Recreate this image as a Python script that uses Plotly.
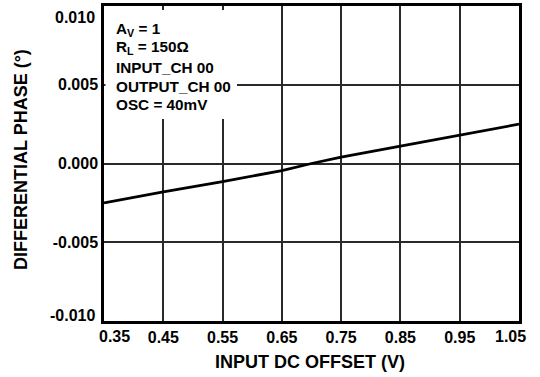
import plotly.graph_objects as go

# input DC offset (V) vs differential phase (deg)
offset_v = [0.35, 0.45, 0.55, 0.65, 0.70, 0.75, 0.85, 0.95, 1.05]
diff_phase = [-0.0025, -0.0018, -0.00115, -0.00045, 0.0, 0.0004, 0.0011, 0.0018, 0.0025]

x_ticks = [0.35, 0.45, 0.55, 0.65, 0.75, 0.85, 0.95, 1.05]
y_ticks = [-0.010, -0.005, 0.000, 0.005, 0.010]

conditions = ["A<sub>V</sub> = 1", "R<sub>L</sub> = 150Ω", "INPUT_CH 00",
              "OUTPUT_CH 00", "OSC = 40mV"]

FONT = "Liberation Sans, Arial, sans-serif"
TICK_SIZE = 16
TITLE_SIZE = 18
NOTE_SIZE = 15.3

# plot box in pixels (540x377 canvas)
L, R, T, B = 104, 519, 6, 321
W, H = R - L, B - T


def px(x):
    return (x - L) / W


def py(y):
    return (B - y) / H


fig = go.Figure()
fig.add_trace(go.Scatter(
    x=offset_v, y=diff_phase, mode="lines",
    line=dict(color="black", width=2.8), showlegend=False
))

# end ticks sit on the frame, so only the inner ones go through the axis
fig.update_layout(
    width=540, height=377,
    margin=dict(l=L, r=540 - R, t=T, b=377 - B),
    paper_bgcolor="white", plot_bgcolor="white",
    font=dict(family=FONT, size=TICK_SIZE, color="black", weight="bold"),
    xaxis=dict(
        range=[x_ticks[0], x_ticks[-1]], tickvals=x_ticks[1:-1],
        ticktext=[f"{v:.2f}" for v in x_ticks[1:-1]],
        showgrid=True, gridcolor="#2a2a2a", gridwidth=1.7,
        showline=True, linecolor="black", linewidth=2.5, mirror=True,
        ticks="", zeroline=False, automargin=False,
    ),
    yaxis=dict(
        range=[y_ticks[0], y_ticks[-1]], tickvals=y_ticks[1:-1],
        ticktext=[f"{v:.3f}" for v in y_ticks[1:-1]],
        showgrid=True, gridcolor="#2a2a2a", gridwidth=1.7,
        showline=True, linecolor="black", linewidth=2.5, mirror=True,
        ticks="", zeroline=False, automargin=False,
    ),
)

# end labels nudged inside like the original
end_labels = [
    (f"{x_ticks[0]:.2f}", px(114), py(336), "center"),
    (f"{x_ticks[-1]:.2f}", px(510), py(336), "center"),
    (f"{y_ticks[-1]:.3f}", px(97), py(18), "right"),
    (f"{y_ticks[0]:.3f}", px(97), py(315), "right"),
]
for txt, x, y, anchor in end_labels:
    fig.add_annotation(text=txt, xref="paper", yref="paper", x=x, y=y,
                       xanchor=anchor, yanchor="middle",
                       showarrow=False, font=dict(size=TICK_SIZE))

# axis titles
fig.add_annotation(text="INPUT DC OFFSET (V)", xref="paper", yref="paper",
                   x=px(310), y=py(362), xanchor="center", yanchor="middle",
                   showarrow=False, font=dict(size=TITLE_SIZE))
fig.add_annotation(text="DIFFERENTIAL PHASE (°)", xref="paper", yref="paper",
                   x=px(21), y=py(160), xanchor="center", yanchor="middle",
                   textangle=-90, showarrow=False, font=dict(size=TITLE_SIZE))

# white box behind the test conditions
fig.add_shape(type="rect", xref="paper", yref="paper",
              x0=px(105.5), x1=px(237), y0=py(119), y1=py(10),
              fillcolor="white", line=dict(width=0), layer="above")

for txt, yc in zip(conditions, [30, 48, 67, 86, 104]):
    fig.add_annotation(text=txt, xref="paper", yref="paper",
                       x=px(114), y=py(yc), xanchor="left", yanchor="middle",
                       showarrow=False, font=dict(size=NOTE_SIZE))

fig.write_html("out.html", config={"displayModeBar": False},
               post_script="document.body.style.margin='0';")
